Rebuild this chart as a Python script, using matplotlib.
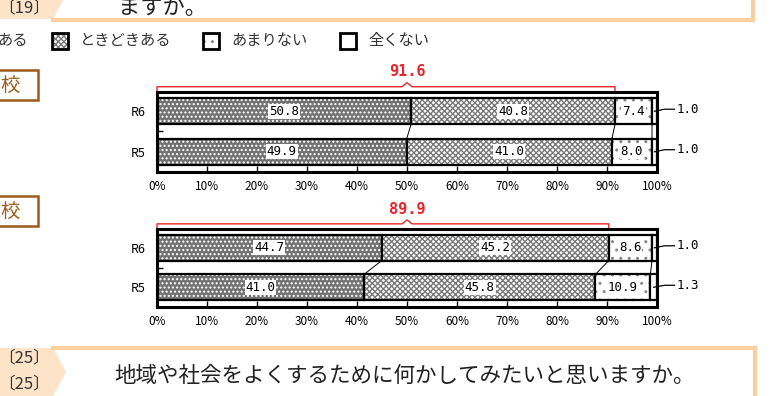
import matplotlib
matplotlib.use("Agg")
import matplotlib.pyplot as plt
import numpy as np
from matplotlib.patches import Rectangle, Polygon

plt.rcParams["font.family"] = ["Noto Sans CJK JP", "DejaVu Sans"]
plt.rcParams["hatch.linewidth"] = 1.0

# ---- データ ----
categories = ["よくある", "ときどきある", "あまりない", "全くない"]
years = ["R6", "R5"]
upper_r6 = [50.8, 40.8, 7.4, 1.0]
upper_r5 = [49.9, 41.0, 8.0, 1.0]
lower_r6 = [44.7, 45.2, 8.6, 1.0]
lower_r5 = [41.0, 45.8, 10.9, 1.3]
x_ticks = [0, 10, 20, 30, 40, 50, 60, 70, 80, 90, 100]

# 模様（白黒印刷風）
FACE = ["#727272", "white", "white", "white"]
HATCH = ["....", "xxxxxx", "..", None]
HCOL = ["white", "#7a7a7a", "#8a8a8a", "black"]

W, H = 782, 396
ORANGE = "#f9cf9f"
PEACH = "#fde3c8"
BROWN = "#9c5b1a"
RED = "#e8262a"


def px(x, y):
    return x / W, 1 - y / H


fig = plt.figure(figsize=(W / 100, H / 100), dpi=100)


def draw_panel(ax, rows):
    h = 0.65
    ypos = np.arange(len(rows))
    cums = []
    for yi, vals in zip(ypos, rows):
        # 帯は合計を100%として描く
        widths = np.array(vals) / sum(vals) * 100
        left = 0.0
        cum = []
        for k, (v, w) in enumerate(zip(vals, widths)):
            ax.barh(yi, w, left=left, height=h, color=FACE[k], hatch=HATCH[k],
                    edgecolor=HCOL[k], linewidth=0)
            ax.barh(yi, w, left=left, height=h, fill=False, edgecolor="black",
                    linewidth=1.6)
            if k < len(vals) - 1:
                ax.text(left + w / 2, yi, f"{v:.1f}", ha="center", va="center",
                        fontsize=9, family="DejaVu Sans Mono",
                        bbox=dict(facecolor="white", edgecolor="none", pad=0.6))
            else:
                ax.plot([left + w / 2, 101.5, 103.5], [yi, yi - 0.05, yi - 0.05],
                        color="black", lw=0.9, clip_on=False)
                ax.text(104, yi - 0.05, f"{v:.1f}", ha="left", va="center",
                        fontsize=9, family="DejaVu Sans Mono")
            left += w
            cum.append(left)
        cums.append(cum)
    # R6 と R5 の境界をつなぐ線
    for k in range(len(rows[0]) - 1):
        ax.plot([cums[0][k], cums[1][k]], [ypos[0] + h / 2, ypos[1] - h / 2],
                color="black", lw=0.7)

    top = -0.475
    ax.set_xlim(0, 100)
    ax.set_ylim(1.5, top)
    ax.set_yticks(ypos)
    ax.set_yticklabels(years, fontsize=9)
    ax.set_yticks([0.5], minor=True)
    ax.tick_params(axis="y", which="major", length=0, pad=8)
    ax.tick_params(axis="y", which="minor", length=4, width=1, direction="in")
    ax.set_xticks(x_ticks)
    ax.set_xticklabels([f"{t}%" for t in x_ticks], fontsize=8.5)
    ax.tick_params(axis="x", direction="in", length=4, width=1, pad=6)
    for s in ax.spines.values():
        s.set_linewidth(2.2)

    # 赤い括弧（よくある＋ときどきある）
    total = rows[0][0] + rows[0][1]
    xe = total / sum(rows[0]) * 100
    yb = top - 0.13
    ax.plot([0, 0, 49, 50, 51, xe, xe],
            [top, yb, yb, yb - 0.1, yb, yb, top],
            color=RED, lw=1.0, clip_on=False)
    ax.text(50, top - 0.5, f"{total:.1f}", ha="center", va="center",
            color=RED, fontsize=11, fontweight="bold", family="DejaVu Sans Mono")


ax1 = fig.add_axes([157 / W, 1 - 172 / H, 500 / W, 80 / H])
draw_panel(ax1, [upper_r6, upper_r5])
ax2 = fig.add_axes([157 / W, 1 - 307 / H, 500 / W, 78 / H])
draw_panel(ax2, [lower_r6, lower_r5])

# ---- 上の設問枠 ----
fig.add_artist(Polygon([px(0, 0), px(63, 0), px(53, 19), px(0, 19)],
                       closed=True, facecolor=PEACH, edgecolor="none"))
fig.add_artist(plt.Line2D([53 / W, 753 / W], [1 - 20 / H, 1 - 20 / H],
                          color=ORANGE, lw=3))
fig.add_artist(plt.Line2D([753 / W, 753 / W], [1 - 20 / H, 1], color=ORANGE, lw=3))
fig.text(*px(-2, 8), "〔19〕", fontsize=12, va="center", color="#333333")
fig.text(*px(118, 8), "ますか。", fontsize=16, va="center", color="#222222")

# ---- 凡例 ----
fig.text(*px(-3, 41), categories[0][-2:], fontsize=11, va="center", color="#333333")
leg_x = [52, 203, 340]
for k, lx in enumerate(leg_x, start=1):
    x0, y0 = px(lx, 49)
    fig.add_artist(Rectangle((x0, y0), 16 / W, 16 / H, facecolor=FACE[k],
                             hatch=HATCH[k], edgecolor=HCOL[k], lw=0))
    fig.add_artist(Rectangle((x0, y0), 16 / W, 16 / H, fill=False,
                             edgecolor="black", lw=2))
    fig.text(*px(lx + 28, 41), categories[k], fontsize=11, va="center",
             color="#333333")

# ---- 校種ラベル ----
for ytop in [70, 196]:
    x0, y0 = px(-5, ytop + 30)
    fig.add_artist(Rectangle((x0, y0), 43 / W, 30 / H, fill=False,
                             edgecolor=BROWN, lw=1.8))
    fig.text(*px(0, ytop + 15), "校", fontsize=14, va="center", color=BROWN)

# ---- 下の設問枠 ----
fig.add_artist(Polygon([px(0, 348), px(53, 348), px(66, 372), px(53, 396), px(0, 396)],
                       closed=True, facecolor=PEACH, edgecolor="none"))
fig.add_artist(plt.Line2D([53 / W, 755 / W], [1 - 348 / H, 1 - 348 / H],
                          color=ORANGE, lw=3))
fig.add_artist(plt.Line2D([755 / W, 755 / W], [1 - 348 / H, 0], color=ORANGE, lw=3))
fig.text(*px(-2, 358), "〔25〕", fontsize=12, va="center", color="#333333")
fig.text(*px(-2, 384), "〔25〕", fontsize=12, va="center", color="#333333")
fig.text(*px(114, 376), "地域や社会をよくするために何かしてみたいと思いますか。",
         fontsize=15.5, va="center", color="#222222")

fig.savefig("out.png", dpi=100)
